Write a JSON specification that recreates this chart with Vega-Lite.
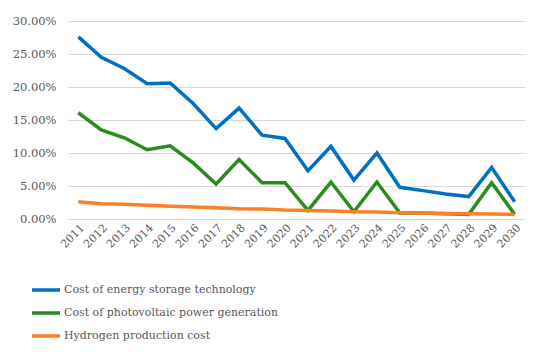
{
  "$schema": "https://vega.github.io/schema/vega-lite/v6.json",
  "width": 457,
  "height": 198,
  "autosize": "none",
  "padding": {"left": 68, "top": 21, "right": 25, "bottom": 133},
  "background": "white",
  "config": {
    "view": {"stroke": null},
    "font": "DejaVu Serif",
    "axis": {"labelFont": "DejaVu Serif"},
    "legend": {"labelFont": "DejaVu Serif"}
  },
  "datasets": {
    "wide": [
      {"year": "2011", "a": 0.276, "b": 0.161, "c": 0.026},
      {"year": "2012", "a": 0.245, "b": 0.135, "c": 0.023},
      {"year": "2013", "a": 0.228, "b": 0.123, "c": 0.0225},
      {"year": "2014", "a": 0.205, "b": 0.105, "c": 0.021},
      {"year": "2015", "a": 0.206, "b": 0.111, "c": 0.0195},
      {"year": "2016", "a": 0.175, "b": 0.085, "c": 0.018},
      {"year": "2017", "a": 0.137, "b": 0.053, "c": 0.017},
      {"year": "2018", "a": 0.168, "b": 0.090, "c": 0.0155},
      {"year": "2019", "a": 0.127, "b": 0.055, "c": 0.015},
      {"year": "2020", "a": 0.122, "b": 0.055, "c": 0.0135},
      {"year": "2021", "a": 0.073, "b": 0.013, "c": 0.013},
      {"year": "2022", "a": 0.110, "b": 0.056, "c": 0.012},
      {"year": "2023", "a": 0.059, "b": 0.011, "c": 0.011},
      {"year": "2024", "a": 0.100, "b": 0.056, "c": 0.0105},
      {"year": "2025", "a": 0.048, "b": 0.009, "c": 0.0095},
      {"year": "2026", "a": 0.043, "b": 0.009, "c": 0.009},
      {"year": "2027", "a": 0.038, "b": 0.008, "c": 0.0085},
      {"year": "2028", "a": 0.034, "b": 0.007, "c": 0.008},
      {"year": "2029", "a": 0.078, "b": 0.055, "c": 0.0075},
      {"year": "2030", "a": 0.026, "b": 0.007, "c": 0.007}
    ]
  },
  "data": {"name": "wide"},
  "transform": [
    {"fold": ["a", "b", "c"], "as": ["key", "value"]},
    {"lookup": "key", "from": {"data": {"values": [
      {"key": "a", "series": "Cost of energy storage technology"},
      {"key": "b", "series": "Cost of photovoltaic power generation"},
      {"key": "c", "series": "Hydrogen production cost"}
    ]}, "key": "key", "fields": ["series"]}}
  ],
  "mark": {"type": "line", "strokeWidth": 3.5, "strokeJoin": "miter"},
  "encoding": {
    "x": {
      "field": "year", "type": "ordinal",
      "scale": {"type": "point", "padding": 0.45},
      "axis": {
        "title": null, "labelAngle": -45, "labelAlign": "right", "labelBaseline": "middle",
        "ticks": false, "domain": false, "labelFontSize": 11,
        "labelColor": "#595959", "labelPadding": 7, "labelOffset": 4, "labelOverlap": false
      }
    },
    "y": {
      "field": "value", "type": "quantitative",
      "scale": {"domain": [0, 0.3]},
      "axis": {
        "title": null, "format": ".2%", "values": [0, 0.05, 0.1, 0.15, 0.2, 0.25, 0.3],
        "domain": false, "ticks": false, "gridColor": "#d9d9d9", "gridWidth": 1.2, "labelOverlap": false,
        "labelFontSize": 11.5, "labelColor": "#595959", "labelPadding": 12
      }
    },
    "color": {
      "field": "series", "type": "nominal",
      "scale": {"range": ["#0070c0", "#2a8c1c", "#ff7f27"]},
      "legend": {
        "title": null, "orient": "none", "legendX": -38, "legendY": 253, "direction": "vertical",
        "symbolType": "stroke", "symbolStrokeWidth": 3.5, "symbolSize": 784,
        "labelFontSize": 11, "labelColor": "#595959",
        "rowPadding": 0, "labelOffset": 2, "labelLimit": 400
      }
    }
  }
}
